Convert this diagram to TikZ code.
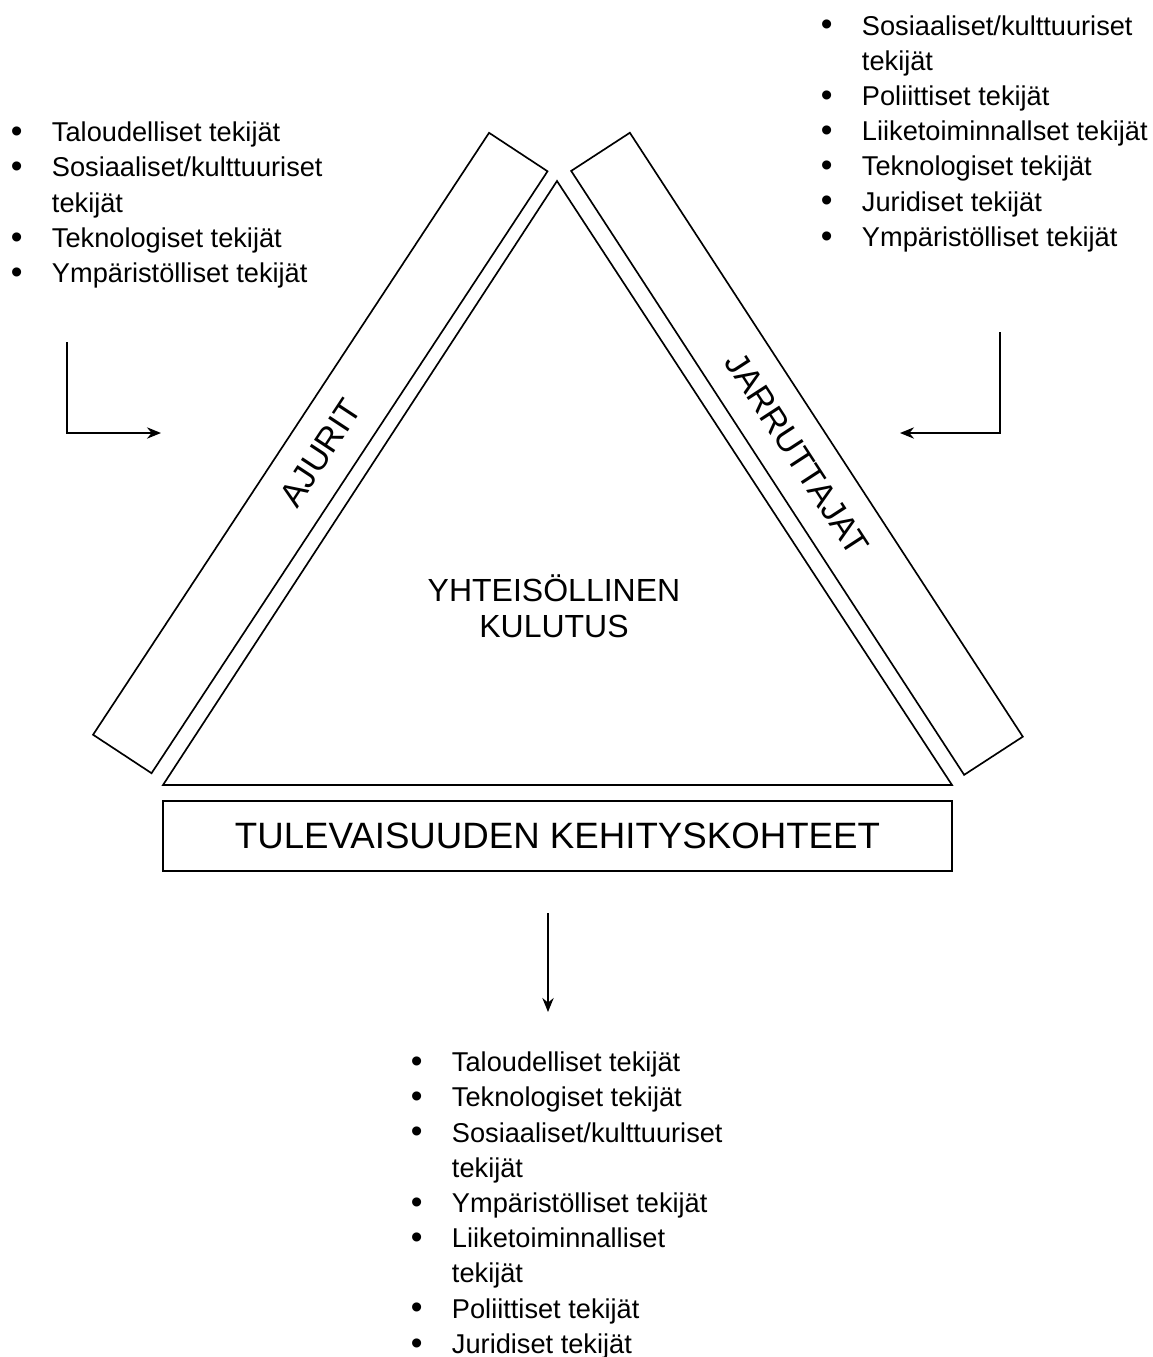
\documentclass[tikz,border=0pt]{standalone}
\usepackage{fontspec}
\setmainfont{Liberation Sans}
\usetikzlibrary{arrows.meta,positioning}
\tikzstyle{plain}=[draw,line width=1.25pt,line join=miter]
\tikzstyle{band}=[plain,minimum width=540.4pt,minimum height=52.5pt,
  inner sep=0pt,font=\fontsize{25.5}{28}\selectfont]
\newcommand{\bl}{\raisebox{-0.6pt}{\fontsize{25}{25}\selectfont\textbullet} &}
\newcommand{\blist}[1]{\fontsize{20.4}{26.4}\selectfont
  \begin{tabular}[t]{@{}p{30.75pt}@{}l@{}}#1\end{tabular}}

\begin{document}
\begin{tikzpicture}[x=0.75pt,y=-0.75pt,>={Stealth[length=10.5pt,width=8.5pt]}]
    \tikzstyle{lst}=[anchor=base west,inner sep=0pt]
    \useasboundingbox (0,0) rectangle (1153,1357);

    % triangle
    \coordinate (top) at (557,181);
    \coordinate (bl) at (163,785);
    \coordinate (br) at (952,785);
    \draw[plain] (top) -- (bl) -- (br) -- cycle;

    \node[align=center,inner sep=0pt,anchor=base] (yk) at (554,601.7)
    {\fontsize{24}{26.7}\selectfont
      \begin{tabular}[t]{@{}c@{}}YHTEISÖLLINEN\\KULUTUS\end{tabular}};

    % side bands
    \node[band,rotate=56.66] (ajurit) at (320.3,453) {AJURIT};
    \node[band,rotate=-56.95] (jarrut) at (797,453.8) {JARRUTTAJAT};

    \node[plain,minimum width=591.75pt,minimum height=52.5pt,
    font=\fontsize{27.5}{30}\selectfont] (tulev) at (557.5,836)
    {TULEVAISUUDEN KEHITYSKOHTEET};

    % lists
    \node[lst] (vasen) at (10.7,141.7) {\blist{
        \bl Taloudelliset tekijät\\
        \bl Sosiaaliset/kulttuuriset\\
        & tekijät\\
        \bl Teknologiset tekijät\\
        \bl Ympäristölliset tekijät}};

    \node[lst] (oikea) at (820.7,35) {\blist{
        \bl Sosiaaliset/kulttuuriset\\
        & tekijät\\
        \bl Poliittiset tekijät\\
        \bl Liiketoiminnallset tekijät\\
        \bl Teknologiset tekijät\\
        \bl Juridiset tekijät\\
        \bl Ympäristölliset tekijät}};

    \node[lst] (ala) at (410.7,1071.7) {\blist{
        \bl Taloudelliset tekijät\\
        \bl Teknologiset tekijät\\
        \bl Sosiaaliset/kulttuuriset\\
        & tekijät\\
        \bl Ympäristölliset tekijät\\
        \bl Liiketoiminnalliset\\
        & tekijät\\
        \bl Poliittiset tekijät\\
        \bl Juridiset tekijät}};

    % arrows
    \coordinate (va) at (67,342);
    \coordinate (vb) at (161,433);
    \draw[plain,->] (va) |- (vb);
    \coordinate (oa) at (1000,332);
    \coordinate (ob) at (900,433);
    \draw[plain,->] (oa) |- (ob);
    \coordinate (aa) at (548,913);
    \coordinate (ab) at (548,1012);
    \draw[plain,->] (aa) -- (ab);
  \end{tikzpicture}
\end{document}
